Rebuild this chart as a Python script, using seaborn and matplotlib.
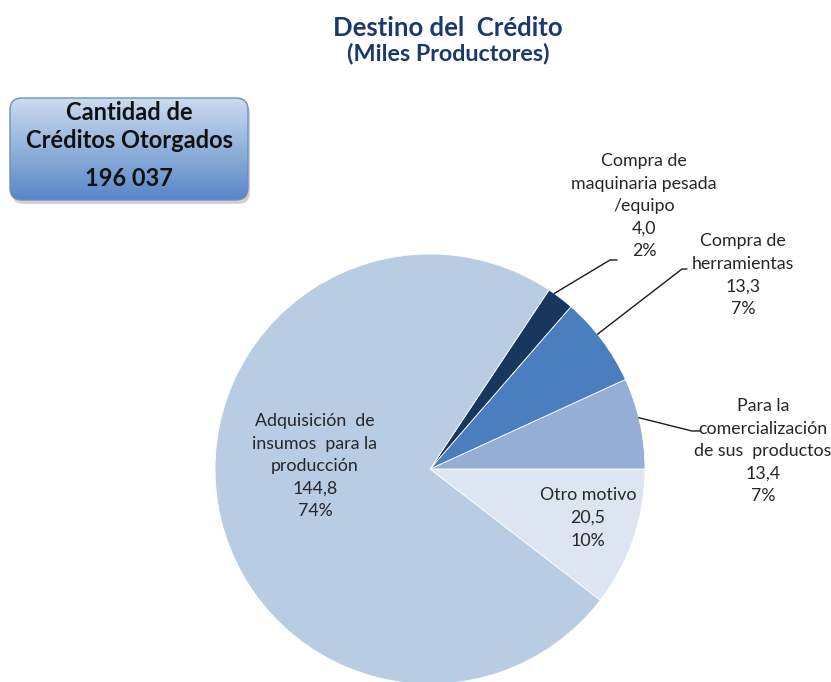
import numpy as np
import matplotlib
matplotlib.use("Agg")
import matplotlib.pyplot as plt
import seaborn as sns
from matplotlib.patches import FancyBboxPatch

# datos (miles de productores), en el orden en que se dibujan los sectores
categorias = ["Otro motivo",
              "Para la\ncomercialización\nde sus  productos",
              "Compra de\nherramientas",
              "Compra de\nmaquinaria pesada\n/equipo",
              "Adquisición  de\ninsumos  para la\nproducción"]
valores = [20.5, 13.4, 13.3, 4.0, 144.8]
colores = ["#DCE5F1", "#94AED5", "#4A7EBE", "#17375E", "#B8CCE4"]
total_creditos = 196037

titulo = "Destino del  Crédito"
subtitulo = "(Miles Productores)"

sns.set_theme(style="white")
plt.rcParams["font.family"] = ["Lato", "DejaVu Sans"]

W, H = 831, 682
fig = plt.figure(figsize=(W / 100, H / 100), dpi=100)
fig.patch.set_facecolor("white")

# pie: centro (430, 469) px, radio 215 px
cx, cy, r = 430, 469, 215
ax = fig.add_axes([(cx - r) / W, (H - cy - r) / H, 2 * r / W, 2 * r / H])
total = sum(valores)
inicio = -360 * valores[0] / total
wedges, _ = ax.pie(valores, colors=colores, startangle=inicio, counterclock=True,
                   radius=1, wedgeprops=dict(edgecolor="white", linewidth=0.6))
ax.set_xlim(-1, 1)
ax.set_ylim(-1, 1)
ax.set_aspect("equal")
ax.axis("off")

# capa superior en pixeles para textos, lineas y cuadro
ov = fig.add_axes([0, 0, 1, 1], zorder=5)
ov.set_xlim(0, W)
ov.set_ylim(H, 0)
ov.axis("off")
ov.patch.set_alpha(0)

txt_color = "#262626"
fs = 12.8

def etiqueta(i):
    v = valores[i]
    pct = round(v / total * 100)
    return f"{categorias[i]}\n{v:.1f}".replace(".", ",") + f"\n{pct}%"

pos_etiq = {0: (588, 518), 1: (763, 451), 2: (743, 275), 3: (644, 206), 4: (315, 466)}
for i, (x, y) in pos_etiq.items():
    ov.text(x, y, etiqueta(i), ha="center", va="center", fontsize=fs,
            color=txt_color, linespacing=1.5)

# lineas guia desde el borde de cada sector
codos = {1: [(692, 431), (700, 431)], 2: [(682, 269), (687, 269)],
         3: [(610, 260), (617, 260)]}
ajuste = {1: 1.5, 2: 2.0, 3: 2.0}
for i, pts in codos.items():
    w = wedges[i]
    ang = np.deg2rad((w.theta1 + w.theta2) / 2 + ajuste[i])
    x0 = cx + r * np.cos(ang)
    y0 = cy - r * np.sin(ang)
    xs = [x0] + [p[0] for p in pts]
    ys = [y0] + [p[1] for p in pts]
    ov.plot(xs, ys, color="#1a1a1a", lw=1.0)

# titulo
col_tit = "#1B3A6B"
ov.text(448, 28, titulo, ha="center", va="center", fontsize=18.5,
        fontweight="bold", color=col_tit)
ov.text(448, 53, subtitulo, ha="center", va="center", fontsize=16.8,
        fontweight="bold", color=col_tit)

# cuadro con degradado
bx, by, bw, bh = 10, 98, 238, 102
sombra = FancyBboxPatch((bx + 2, by + 4), bw, bh,
                        boxstyle="round,pad=0,rounding_size=12",
                        fc="#9a9a9a", ec="none", alpha=0.45)
ov.add_patch(sombra)
caja = FancyBboxPatch((bx, by), bw, bh, boxstyle="round,pad=0,rounding_size=12",
                      fc="none", ec="#6E8FBF", lw=1.0)
ov.add_patch(caja)
top_c = np.array([0.80, 0.86, 0.94])
bot_c = np.array([0.34, 0.53, 0.78])
t = np.linspace(0, 1, 200)[:, None]
grad = (top_c * (1 - t) + bot_c * t)[:, None, :]
img = ov.imshow(grad, extent=[bx, bx + bw, by + bh, by], origin="upper",
                aspect="auto", zorder=1)
img.set_clip_path(caja)
caja.set_zorder(2)

fb = 17
ov.text(bx + bw / 2, 113, "Cantidad de", ha="center", va="center",
        fontsize=fb, fontweight="bold", color="#111111", zorder=3)
ov.text(bx + bw / 2, 140, "Créditos Otorgados", ha="center", va="center",
        fontsize=fb, fontweight="bold", color="#111111", zorder=3)
ov.text(bx + bw / 2, 179, f"{total_creditos:,}".replace(",", " "), ha="center",
        va="center", fontsize=fb, fontweight="bold", color="#111111", zorder=3)
ov.set_xlim(0, W)
ov.set_ylim(H, 0)

fig.savefig("out.png", dpi=100)
